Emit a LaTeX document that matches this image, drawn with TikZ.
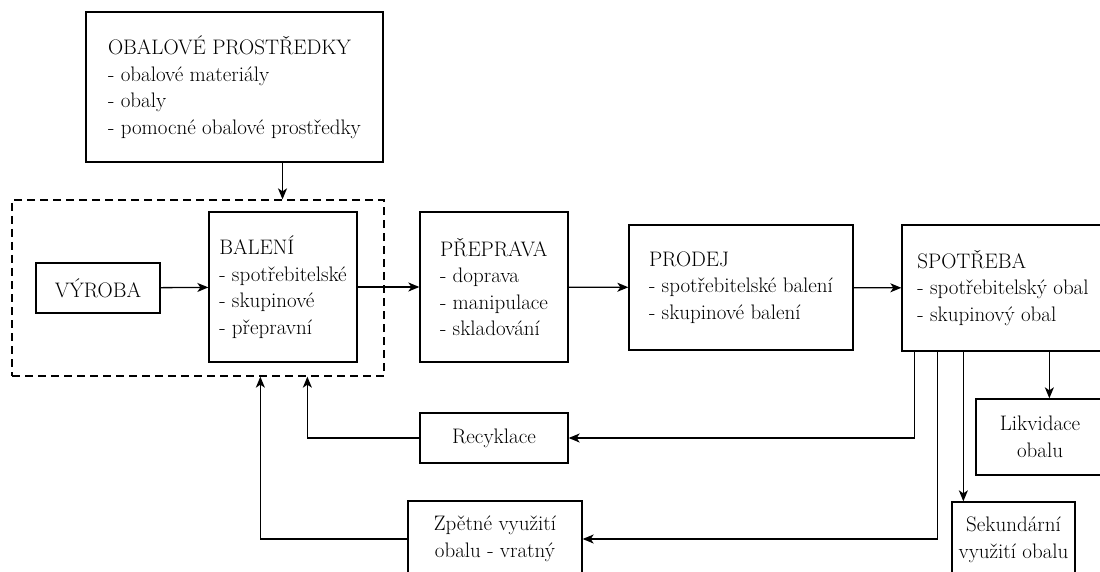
\documentclass[tikz,border=0pt]{standalone}
\usepackage{fontspec}
\usetikzlibrary{arrows.meta}

\begin{document}
\begin{tikzpicture}[
    x=1pt, y=-1pt,
    every path/.style={line width=1.3pt},
    box/.style={draw,inner sep=0pt,align=left,font=\fontsize{21}{26.5}\selectfont},
    cbox/.style={box,align=center},
    >={Stealth[length=11pt,width=9pt,inset=3pt]}]
  \useasboundingbox (0,0) rectangle (1100,572);
  % top and the dashed frame
  \node[box,minimum width=297,minimum height=150] (obal) at (234.5,87)
    {OBALOVÉ PROSTŘEDKY\\- obalové materiály\\- obaly\\- pomocné obalové prostředky};
  \node[draw,dashed,dash pattern=on 8pt off 5pt,minimum width=372,minimum height=176] (ramec) at (198,288) {};
  % main row
  \node[cbox,minimum width=124,minimum height=50] (vyroba) at (98,288) {VÝROBA};
  \node[box,minimum width=148,minimum height=150] (baleni) at (283,287)
    {BALENÍ\\- spotřebitelské\\- skupinové\\- přepravní};
  \node[box,minimum width=148,minimum height=150] (preprava) at (494,287)
    {PŘEPRAVA\\- doprava\\- manipulace\\- skladování};
  \node[box,minimum width=224,minimum height=125] (prodej) at (741,287.5)
    {PRODEJ\\- spotřebitelské balení\\- skupinové balení};
  \node[box,minimum width=202,minimum height=126] (spotreba) at (1003,288)
    {SPOTŘEBA\\- spotřebitelský obal\\- skupinový obal};
  % returns and ends
  \node[cbox,minimum width=148,minimum height=50] (recyklace) at (494,438) {Recyklace};
  \node[cbox,minimum width=174,minimum height=76] (zpetne) at (495,539) {Zpětné využití\\obalu - vratný};
  \node[cbox,minimum width=128,minimum height=76] (likvidace) at (1040,437) {Likvidace\\obalu};
  \node[cbox,minimum width=123,minimum height=76] (sekundarni) at (1013.5,540) {Sekundární\\využití obalu};

  \draw[->] ([xshift=48pt]obal.south) -- ([xshift=48pt]obal.south |- ramec.north);
  \draw[->] (vyroba) -- (baleni);
  \draw[->] (baleni) -- (preprava);
  \draw[->] (preprava) -- (prodej);
  \draw[->] (prodej) -- (spotreba);
  \draw[->] ([xshift=13pt]spotreba.south west) |- (recyklace);
  \draw[->] ([xshift=36pt]spotreba.south west) |- (zpetne);
  \draw[->] ([xshift=62pt]spotreba.south west) -- ([xshift=62pt]spotreba.south west |- sekundarni.north);
  \draw[->] ([xshift=148pt]spotreba.south west) -- ([xshift=148pt]spotreba.south west |- likvidace.north);
  \draw[->] (recyklace) -| ([xshift=296pt]ramec.south west);
  \draw[->] (zpetne) -| ([xshift=249pt]ramec.south west);
\end{tikzpicture}
\end{document}
